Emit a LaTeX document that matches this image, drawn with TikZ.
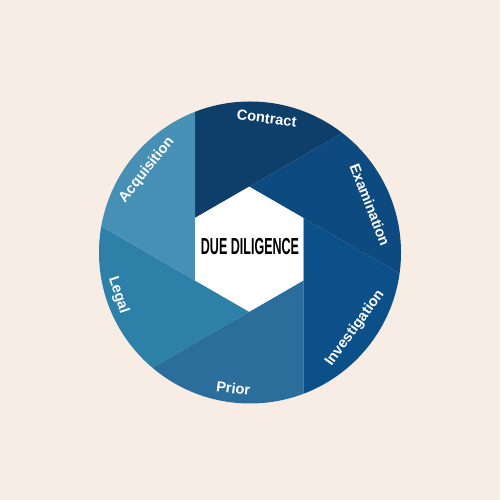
\documentclass[tikz,border=0pt]{standalone}
\usepackage{fontspec}
\setmainfont{Liberation Sans}
\usetikzlibrary{calc}
\definecolor{bg}{HTML}{F7EDE4}
\definecolor{cContract}{HTML}{0E3F6B}
\definecolor{cExam}{HTML}{0C4A7F}
\definecolor{cInv}{HTML}{0B5089}
\definecolor{cPrior}{HTML}{2B6E9B}
\definecolor{cLegal}{HTML}{2D80A7}
\definecolor{cAcq}{HTML}{4790B5}
\begin{document}
\begin{tikzpicture}[x=0.02cm,y=0.02cm,
  seglabel/.style={text=white,font=\bfseries\fontsize{8.3}{10}\selectfont,inner sep=0pt}]
\fill[bg] (0,0) rectangle (500,500);
\useasboundingbox (0,0) rectangle (500,500);
\coordinate (C) at (250,247.5);
\coordinate (H) at (249.2,250.8);
\begin{scope}
  \clip (C) circle (151);
  \begin{scope}[shift={(H)}]
    \foreach \a/\c in {150/cContract,90/cExam,30/cInv,-30/cPrior,-90/cLegal,210/cAcq}{
      \fill[\c] (\a:62.5) -- ++({\a-60}:320) -- ($({\a-60}:62.5)+({\a-120}:320)$) -- ({\a-60}:62.5) -- cycle;
    }
    \fill[white] (90:62.5) -- (30:62.5) -- (-30:62.5) -- (-90:62.5) -- (210:62.5) -- (150:62.5) -- cycle;
  \end{scope}
\end{scope}
\node[inner sep=0pt,font=\bfseries\fontsize{13.2}{15}\selectfont,xscale=0.54] (title) at (250,253.3) {DUE DILIGENCE};
\node[seglabel,rotate=-7] (contract) at (266.7,381.7) {Contract};
\node[seglabel,rotate=-68.6] (exam) at (370,295) {Examination};
\node[seglabel,rotate=54] (inv) at (355,171.7) {Investigation};
\node[seglabel,rotate=-7] (prior) at (233.3,111.7) {Prior};
\node[seglabel,rotate=-72] (legal) at (118.3,205) {Legal};
\node[seglabel,rotate=51.6] (acq) at (146.7,330) {Acquisition};
\end{tikzpicture}
\end{document}
